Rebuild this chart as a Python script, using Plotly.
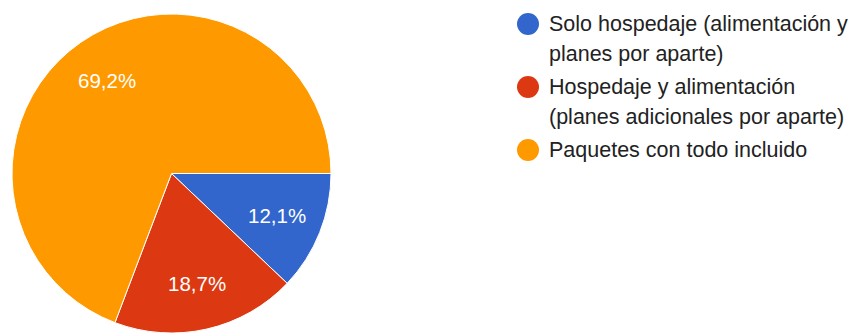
import math
import plotly.graph_objects as go

# Survey answers: preferred type of accommodation package
categories = [
    "Solo hospedaje (alimentación y<br>planes por aparte)",
    "Hospedaje y alimentación<br>(planes adicionales por aparte)",
    "Paquetes con todo incluido",
]
responses = [11, 17, 63]
colors = ["#3366cc", "#dc3912", "#ff9900"]

W, H = 851, 333
FONT = "Arial, 'Liberation Sans', sans-serif"

# Pie placement in pixels (center and radius)
PIE_LEFT, PIE_RIGHT, PIE_TOP = 11, 332, 14
cx = (PIE_LEFT + PIE_RIGHT) / 2
radius = min(PIE_RIGHT - PIE_LEFT, H - PIE_TOP) / 2
cy = H - radius
START_DEG = 90  # first slice starts at 3 o'clock, clockwise

fig = go.Figure(
    go.Pie(
        labels=[c.replace("<br>", " ") for c in categories],
        values=responses,
        sort=False,
        direction="clockwise",
        rotation=START_DEG,
        marker=dict(colors=colors, line=dict(color="white", width=1)),
        textinfo="none",
        hoverinfo="label+value+percent",
        showlegend=False,
        domain=dict(x=[PIE_LEFT / W, PIE_RIGHT / W], y=[0, 1 - PIE_TOP / H]),
    )
)

annotations, shapes = [], []

# Percentage labels placed along each slice's bisector
total = sum(responses)
acc = 0
LABEL_FRAC = 0.71
for v in responses:
    mid = (acc + v / 2) / total * 360  # degrees clockwise from 3 o'clock
    acc += v
    a = math.radians(mid)
    px = cx + radius * LABEL_FRAC * math.cos(a)
    py = cy + radius * LABEL_FRAC * math.sin(a)
    pct = f"{100 * v / total:.1f}".replace(".", ",") + "%"
    annotations.append(dict(
        text=pct, xref="paper", yref="paper",
        x=px / W, y=1 - py / H, xanchor="center", yanchor="middle",
        showarrow=False, font=dict(size=20.5, color="white", family=FONT),
    ))

# Legend drawn as circle markers with wrapped text
legend_x_marker = 528
legend_x_text = 547
line_gap = 30
entry_gap = 33
y = 24
for cat, col in zip(categories, colors):
    r = 11
    shapes.append(dict(
        type="circle", xref="paper", yref="paper",
        x0=(legend_x_marker - r) / W, x1=(legend_x_marker + r) / W,
        y0=1 - (y + r) / H, y1=1 - (y - r) / H,
        fillcolor=col, line=dict(width=0),
    ))
    lines = cat.split("<br>")
    for i, line in enumerate(lines):
        annotations.append(dict(
            text=line, xref="paper", yref="paper",
            x=legend_x_text / W, y=1 - (y + i * line_gap) / H,
            xanchor="left", yanchor="middle", showarrow=False,
            font=dict(size=21.5, color="#222222", family=FONT),
        ))
    y += (len(lines) - 1) * line_gap + entry_gap

fig.update_layout(
    width=W, height=H,
    margin=dict(l=0, r=0, t=0, b=0),
    paper_bgcolor="white",
    plot_bgcolor="white",
    shapes=shapes,
    annotations=annotations,
)

fig.write_html("out.html")
